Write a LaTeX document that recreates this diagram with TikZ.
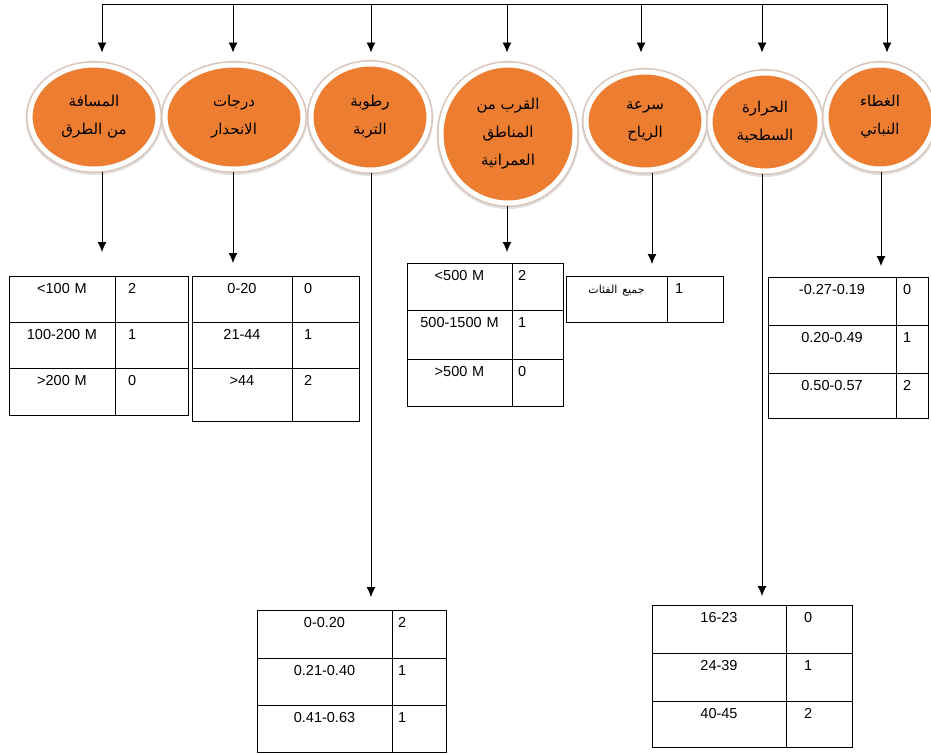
\documentclass[tikz,border=0pt]{standalone}
\usepackage{fontspec}
\setmainfont{Liberation Sans}
\newfontfamily\arabicfont[Script=Arabic]{DejaVu Sans}
\TeXXeTstate=1
\usetikzlibrary{positioning, shapes.geometric, arrows.meta}
\definecolor{orng}{HTML}{ED7D31}
\definecolor{rim}{HTML}{D8C4B8}
\newcommand{\artxt}[1]{\beginR #1\endR}

\tikzstyle{Arrow} = [line width=0.9pt, -{Latex[length=10pt, width=9pt]}]
\tikzstyle{Oval} = [ellipse, inner sep=0pt, fill=orng, draw=white, line width=5pt,
  preaction={draw=black!12, line width=9pt, transform canvas={yshift=-1.5pt}},
  preaction={draw=rim, line width=8pt}, align=center,
  font=\arabicfont\fontsize{15}{28}\selectfont]
\tikzset{
  Key/.style 2 args={draw, line width=0.8pt, outer sep=0pt, inner xsep=0pt, inner ysep=0pt,
    text width=#1, text height=17pt, text depth=#2, align=center,
    font=\fontsize{14.5}{17}\selectfont},
  Val/.style n args={3}{draw, line width=0.8pt, outer sep=0pt, inner xsep=#3, inner ysep=0pt,
    text width=#1, text height=17pt, text depth=#2, align=left,
    font=\fontsize{14.5}{17}\selectfont}
}

\begin{document}
\begin{tikzpicture}[x=1pt, y=-1pt]
    \useasboundingbox (0,0) rectangle (931,753);

    % factors
    \node [Oval, minimum width=128pt, minimum height=104pt] (e1) at (94,117) {\artxt{المسافة}\\\artxt{من الطرق}};
    \node [Oval, minimum width=138pt, minimum height=104pt] (e2) at (234,117) {\artxt{درجات}\\\artxt{الانحدار}};
    \node [Oval, minimum width=118pt, minimum height=106pt] (e3) at (370,117) {\artxt{رطوبة}\\\artxt{التربة}};
    \node [Oval, minimum width=134pt, minimum height=138pt] (e4) at (508,134) {\artxt{القرب من}\\\artxt{المناطق}\\\artxt{العمرانية}};
    \node [Oval, minimum width=118pt, minimum height=98pt] (e5) at (645,121) {\artxt{سرعة}\\\artxt{الرياح}};
    \node [Oval, minimum width=110pt, minimum height=98pt] (e6) at (765,122) {\artxt{الحرارة}\\\artxt{السطحية}};
    \node [Oval, minimum width=108pt, minimum height=104pt] (e7) at (880,117) {\artxt{الغطاء}\\\artxt{النباتي}};

    % top bar
    \coordinate (b1) at (102,4);
    \coordinate (b2) at (233,4);
    \coordinate (b3) at (371,4);
    \coordinate (b4) at (507,4);
    \coordinate (b5) at (641,4);
    \coordinate (b6) at (762,4);
    \coordinate (b7) at (887,4);
    \draw[line width=0.9pt] (b1) -- (b7);
    \draw[Arrow, shorten >=10pt] (b1) -- (e1.north -| b1);
    \draw[Arrow, shorten >=10pt] (b2) -- (e2.north -| b2);
    \draw[Arrow, shorten >=9pt] (b3) -- (e3.north -| b3);
    \draw[Arrow, shorten >=10pt] (b4) -- (e4.north -| b4);
    \draw[Arrow, shorten >=17pt] (b5) -- (e5.north -| b5);
    \draw[Arrow, shorten >=18pt] (b6) -- (e6.north -| b6);
    \draw[Arrow, shorten >=10pt] (b7) -- (e7.north -| b7);

    % classes
    \node [Key={106pt}{29pt}, anchor=north west] (t1a) at (9,276) {<100 M};
    \node [Val={47pt}{29pt}{13pt}, right=0pt of t1a] (t1b) {2};
    \node [Key={106pt}{29pt}, below=0pt of t1a] (t1c) {100-200 M};
    \node [Val={47pt}{29pt}{13pt}, right=0pt of t1c] (t1d) {1};
    \node [Key={106pt}{30pt}, below=0pt of t1c] (t1e) {>200 M};
    \node [Val={47pt}{30pt}{13pt}, right=0pt of t1e] (t1f) {0};

    \node [Key={100pt}{29pt}, anchor=north west] (t2a) at (192,276) {0-20};
    \node [Val={43pt}{29pt}{12pt}, right=0pt of t2a] (t2b) {0};
    \node [Key={100pt}{29pt}, below=0pt of t2a] (t2c) {21-44};
    \node [Val={43pt}{29pt}{12pt}, right=0pt of t2c] (t2d) {1};
    \node [Key={100pt}{36pt}, below=0pt of t2c] (t2e) {>44};
    \node [Val={43pt}{36pt}{12pt}, right=0pt of t2e] (t2f) {2};

    \node [Key={135pt}{31pt}, anchor=north west] (t3a) at (257,610) {0-0.20};
    \node [Val={42pt}{31pt}{6pt}, right=0pt of t3a] (t3b) {2};
    \node [Key={135pt}{30pt}, below=0pt of t3a] (t3c) {0.21-0.40};
    \node [Val={42pt}{30pt}{6pt}, right=0pt of t3c] (t3d) {1};
    \node [Key={135pt}{30pt}, below=0pt of t3c] (t3e) {0.41-0.63};
    \node [Val={42pt}{30pt}{6pt}, right=0pt of t3e] (t3f) {1};

    \node [Key={105pt}{30pt}, anchor=north west] (t4a) at (407,263) {<500 M};
    \node [Val={39pt}{30pt}{6pt}, right=0pt of t4a] (t4b) {2};
    \node [Key={105pt}{32pt}, below=0pt of t4a] (t4c) {500-1500 M};
    \node [Val={39pt}{32pt}{6pt}, right=0pt of t4c] (t4d) {1};
    \node [Key={105pt}{30pt}, below=0pt of t4c] (t4e) {>500 M};
    \node [Val={39pt}{30pt}{6pt}, right=0pt of t4e] (t4f) {0};

    \node [Key={101pt}{29pt}, anchor=north west] (t5a) at (566,276) {\arabicfont\fontsize{11}{12}\selectfont\artxt{جميع الفئات}};
    \node [Val={40pt}{29pt}{8pt}, right=0pt of t5a] (t5b) {1};

    \node [Key={134pt}{31pt}, anchor=north west] (t6a) at (652,605) {16-23};
    \node [Val={30pt}{31pt}{18pt}, right=0pt of t6a] (t6b) {0};
    \node [Key={134pt}{31pt}, below=0pt of t6a] (t6c) {24-39};
    \node [Val={30pt}{31pt}{18pt}, right=0pt of t6c] (t6d) {1};
    \node [Key={134pt}{29pt}, below=0pt of t6c] (t6e) {40-45};
    \node [Val={30pt}{29pt}{18pt}, right=0pt of t6e] (t6f) {2};

    \node [Key={128pt}{31pt}, anchor=north west] (t7a) at (768,277) {-0.27-0.19};
    \node [Val={18pt}{31pt}{7pt}, right=0pt of t7a] (t7b) {0};
    \node [Key={128pt}{31pt}, below=0pt of t7a] (t7c) {0.20-0.49};
    \node [Val={18pt}{31pt}{7pt}, right=0pt of t7c] (t7d) {1};
    \node [Key={128pt}{28pt}, below=0pt of t7c] (t7e) {0.50-0.57};
    \node [Val={18pt}{28pt}{7pt}, right=0pt of t7e] (t7f) {2};

    % links down
    \coordinate (d1) at (102,252);
    \coordinate (d2) at (233,263);
    \coordinate (d3) at (371,597);
    \coordinate (d4) at (507,252);
    \coordinate (d5) at (652,264);
    \coordinate (d6) at (762,596);
    \coordinate (d7) at (881,266);
    \draw[Arrow] (e1.south -| d1) -- (d1);
    \draw[Arrow] (e2.south -| d2) -- (d2);
    \draw[Arrow] (e3.south -| d3) -- (d3);
    \draw[Arrow] (e4.south -| d4) -- (d4);
    \draw[Arrow] (e5.south -| d5) -- (d5);
    \draw[Arrow] (e6.south -| d6) -- (d6);
    \draw[Arrow] (e7.south -| d7) -- (d7);
\end{tikzpicture}
\end{document}
